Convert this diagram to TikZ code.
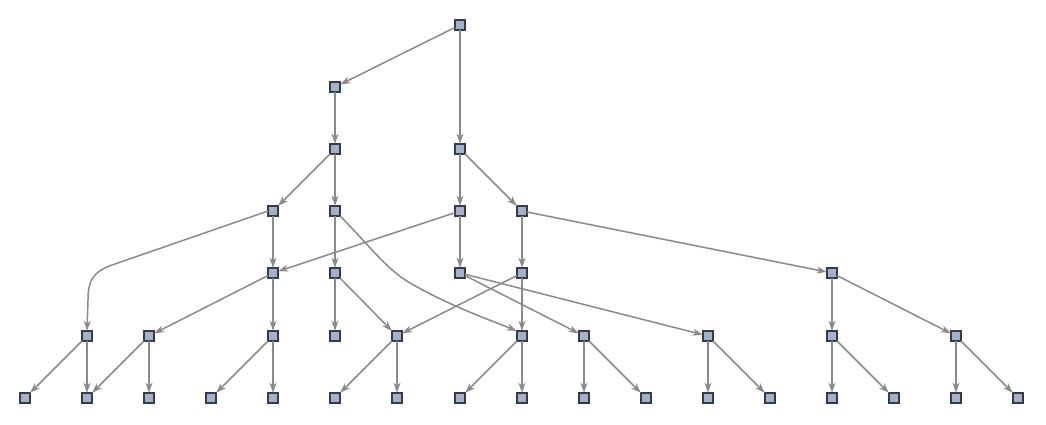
\documentclass[tikz,border=0pt]{standalone}
\usetikzlibrary{arrows.meta}
\definecolor{vfill}{HTML}{A3B1CB}
\definecolor{vdraw}{HTML}{363B45}
\definecolor{edgec}{HTML}{8A8A8A}
\tikzset{
  vtx/.style={draw=vdraw,fill=vfill,line width=1.5pt,minimum size=10pt,inner sep=0pt,outer sep=0pt,rectangle},
  edg/.style={draw=edgec,line width=1.5pt,-{Stealth[length=10pt,width=7pt,inset=3pt]},shorten >=0.3pt}
}
\begin{document}
\begin{tikzpicture}[x=1pt,y=-1pt]
\useasboundingbox (0,0) rectangle (1046,424);
% level 0-4
\node[vtx] (A) at (460,25) {};
\node[vtx] (B) at (335,87) {};
\node[vtx] (C) at (335,149) {};
\node[vtx] (D) at (460,149) {};
\node[vtx] (E) at (273,211) {};
\node[vtx] (F) at (335,211) {};
\node[vtx] (G) at (460,211) {};
\node[vtx] (H) at (522,211) {};
\node[vtx] (I) at (273,273) {};
\node[vtx] (J) at (335,273) {};
\node[vtx] (K) at (460,273) {};
\node[vtx] (L) at (522,273) {};
\node[vtx] (M) at (832,273) {};
% level 5
\node[vtx] (N) at (87,336) {};
\node[vtx] (O) at (149,336) {};
\node[vtx] (P) at (273,336) {};
\node[vtx] (Q) at (335,336) {};
\node[vtx] (R) at (397,336) {};
\node[vtx] (S) at (522,336) {};
\node[vtx] (T) at (584,336) {};
\node[vtx] (U) at (708,336) {};
\node[vtx] (V) at (832,336) {};
\node[vtx] (W) at (956,336) {};
% level 6
\node[vtx] (a1) at (25,398) {};
\node[vtx] (a2) at (87,398) {};
\node[vtx] (a3) at (149,398) {};
\node[vtx] (a4) at (211,398) {};
\node[vtx] (a5) at (273,398) {};
\node[vtx] (a6) at (335,398) {};
\node[vtx] (a7) at (397,398) {};
\node[vtx] (a8) at (460,398) {};
\node[vtx] (a9) at (522,398) {};
\node[vtx] (a10) at (584,398) {};
\node[vtx] (a11) at (646,398) {};
\node[vtx] (a12) at (708,398) {};
\node[vtx] (a13) at (770,398) {};
\node[vtx] (a14) at (832,398) {};
\node[vtx] (a15) at (894,398) {};
\node[vtx] (a16) at (956,398) {};
\node[vtx] (a17) at (1018,398) {};
% edges
\draw[edg] (A) -- (B);
\draw[edg] (A) -- (D);
\draw[edg] (B) -- (C);
\draw[edg] (C) -- (E);
\draw[edg] (C) -- (F);
\draw[edg] (D) -- (G);
\draw[edg] (D) -- (H);
\draw[edg] (E) -- (I);
\draw[edg] (E.west) -- (112,265) .. controls (92,272) and (88,282) .. (88,300) -- (N.north);
\draw[edg] (F) -- (J);
\draw[edg] (F.south east) .. controls (370,246) and (385,268) .. (410,283) .. controls (450,306) and (490,320) .. (S.north west);
\draw[edg] (G) -- (I);
\draw[edg] (G) -- (K);
\draw[edg] (H) -- (L);
\draw[edg] (H) -- (M);
\draw[edg] (I) -- (O);
\draw[edg] (I) -- (P);
\draw[edg] (J) -- (Q);
\draw[edg] (J) -- (R);
\draw[edg] (K) -- (T);
\draw[edg] (K) -- (U);
\draw[edg] (L) -- (R);
\draw[edg] (L) -- (S);
\draw[edg] (M) -- (V);
\draw[edg] (M) -- (W);
\draw[edg] (N) -- (a1);
\draw[edg] (N) -- (a2);
\draw[edg] (O) -- (a2);
\draw[edg] (O) -- (a3);
\draw[edg] (P) -- (a4);
\draw[edg] (P) -- (a5);
\draw[edg] (R) -- (a6);
\draw[edg] (R) -- (a7);
\draw[edg] (S) -- (a8);
\draw[edg] (S) -- (a9);
\draw[edg] (T) -- (a10);
\draw[edg] (T) -- (a11);
\draw[edg] (U) -- (a12);
\draw[edg] (U) -- (a13);
\draw[edg] (V) -- (a14);
\draw[edg] (V) -- (a15);
\draw[edg] (W) -- (a16);
\draw[edg] (W) -- (a17);
\end{tikzpicture}
\end{document}
